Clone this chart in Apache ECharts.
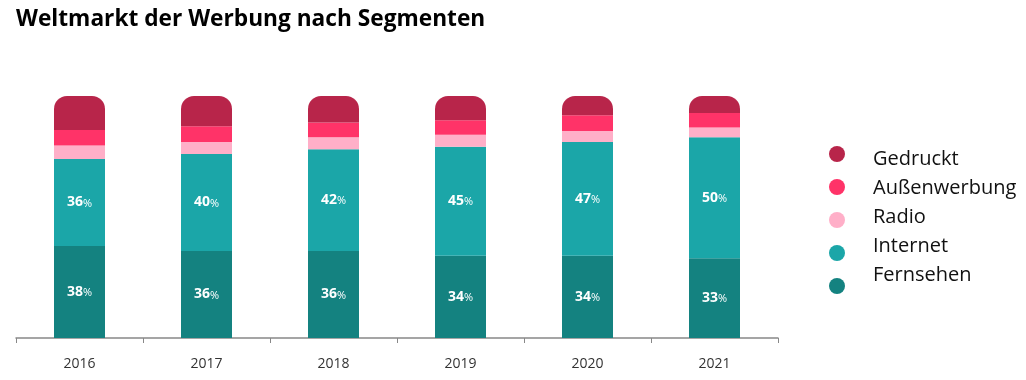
<!DOCTYPE html>
<html><head><meta charset="utf-8">
<script src="https://cdn.jsdelivr.net/npm/echarts@6/dist/echarts.min.js"></script>
<style>html,body{margin:0;padding:0;background:#fff}#c{width:1026px;height:380px}</style>
</head><body><div id="c"></div>
<script>
const years = ['2016','2017','2018','2019','2020','2021'];
const fernsehen = [38, 36, 36, 34, 34, 33];
const internet = [36, 40, 42, 45, 47, 50];
const radio = [5.5, 5, 5, 5, 4.5, 4];
const aussenwerbung = [6.5, 6.5, 6, 6, 6.5, 6];
const gedruckt = [14, 12.5, 11, 10, 8, 7];
const seriesNames = ['Gedruckt','Außenwerbung','Radio','Internet','Fernsehen'];
const colors = {Gedruckt:'#B8254A', 'Außenwerbung':'#FF3368', Radio:'#FFAFC8', Internet:'#1BA6A8', Fernsehen:'#148280'};

const FONT = '"Open Sans", "Noto Sans", sans-serif';
const pctLabel = {
  show: true, position: 'inside',
  formatter: p => '{n|' + p.value + '}{p|%}',
  rich: {
    n: {color:'#fff', fontWeight:'bold', fontSize:14, fontFamily:FONT},
    p: {color:'#fff', fontSize:11, fontFamily:FONT, padding:[2,0,0,0]}
  }
};
function mk(name, data, extra) {
  return Object.assign({
    name, type:'bar', stack:'s', data, barWidth:51,
    itemStyle:{color:colors[name]},
    emphasis:{disabled:true}
  }, extra||{});
}
const chart = echarts.init(document.getElementById('c'));
chart.setOption({
  animation:false,
  title:{text:'Weltmarkt der Werbung nach Segmenten', left:11, top:3,
    textStyle:{fontFamily:FONT, fontWeight:'bold', fontSize:22.7, color:'#000'}},
  grid:{left:16, right:248, top:96, bottom:42},
  xAxis:{type:'category', data:years,
    axisLine:{lineStyle:{color:'#888', width:1.5}},
    axisTick:{show:true, length:5, lineStyle:{color:'#888'}},
    axisLabel:{color:'#333', fontSize:14, fontFamily:FONT, margin:19}},
  yAxis:{type:'value', min:0, max:100, show:false},
  legend:[
    {orient:'vertical', left:824, top:141, icon:'circle', itemWidth:16, itemHeight:16, itemGap:17,
     data:seriesNames, formatter:()=>'', selectedMode:false, textStyle:{fontSize:1}},
    {orient:'vertical', left:862, top:141, icon:'rect', itemWidth:1, itemHeight:1, itemGap:3,
     itemStyle:{opacity:0}, data:seriesNames, selectedMode:false,
     textStyle:{fontFamily:FONT, fontSize:20, color:'#111', lineHeight:26, padding:[0,0,0,0]}}
  ],
  series:[
    mk('Fernsehen', fernsehen, {label:pctLabel}),
    mk('Internet', internet, {label:pctLabel}),
    mk('Radio', radio),
    mk('Außenwerbung', aussenwerbung),
    mk('Gedruckt', gedruckt, {itemStyle:{color:colors.Gedruckt, borderRadius:[13,13,0,0]}})
  ]
});
</script></body></html>
